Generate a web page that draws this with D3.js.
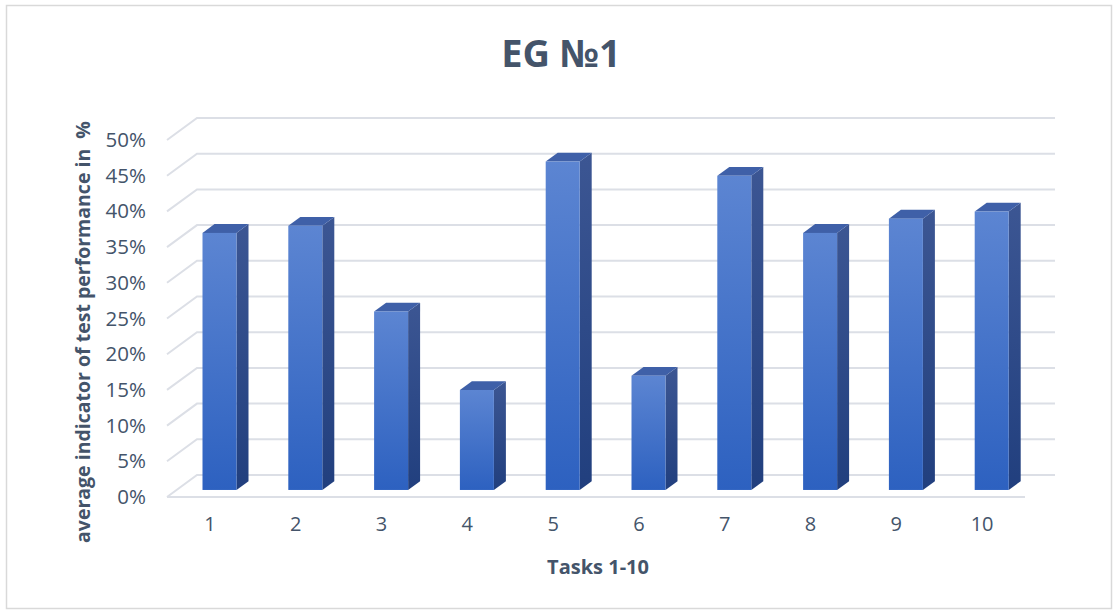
<!DOCTYPE html>
<html>
<head>
<meta charset="utf-8">
<script src="https://cdn.jsdelivr.net/npm/d3@7"></script>
<style>
  html, body { margin: 0; padding: 0; background: #fff; }
  svg { display: block; font-family: "Open Sans", sans-serif; }
</style>
</head>
<body>
<svg id="chart" width="1118" height="614"></svg>
<script>
// Tasks and their average test performance
const tasks = ["1", "2", "3", "4", "5", "6", "7", "8", "9", "10"];
const performance = [0.36, 0.37, 0.25, 0.14, 0.46, 0.16, 0.44, 0.36, 0.38, 0.39];
const yTicks = [0, 0.05, 0.10, 0.15, 0.20, 0.25, 0.30, 0.35, 0.40, 0.45, 0.50];

const chartTitle = "EG №1";
const xTitle = "Tasks 1-10";
const yTitle = "average indicator of test performance in  %";

const svg = d3.select("#chart");
const W = 1118, H = 614;

// oblique 3D projection: front plane plus a depth vector
const frontLeft = 167, frontRight = 1025, floorY = 497;
const depthX = 30, depthY = -22;
const barD0 = 0.32, barD1 = 0.72;   // bar's front and back depth (fraction of floor depth)
const textColor = "#44546a";
const gridColor = "#dcdfe6";
const font = "'Open Sans', sans-serif";

const x = d3.scaleBand().domain(tasks).range([frontLeft, frontRight]);
const yFront = d3.scaleLinear().domain([0, 0.5]).range([floorY, floorY - 357]);
const h = v => floorY - yFront(v);

// outer frame
svg.append("rect")
  .attr("x", 6.5).attr("y", 5.5).attr("width", W - 13).attr("height", H - 11)
  .attr("fill", "#fff").attr("stroke", "#d9d9d9").attr("stroke-width", 1.5);

// gradients
const defs = svg.append("defs");
const gFront = defs.append("linearGradient").attr("id", "gFront")
  .attr("x1", 0).attr("y1", 0).attr("x2", 0).attr("y2", 1);
gFront.append("stop").attr("offset", "0%").attr("stop-color", "#5c85d2");
gFront.append("stop").attr("offset", "100%").attr("stop-color", "#2d61c0");
const gSide = defs.append("linearGradient").attr("id", "gSide")
  .attr("x1", 0).attr("y1", 0).attr("x2", 0).attr("y2", 1);
gSide.append("stop").attr("offset", "0%").attr("stop-color", "#3c5693");
gSide.append("stop").attr("offset", "100%").attr("stop-color", "#213f7e");

// gridlines: side wall diagonal + back wall
const grid = svg.append("g").attr("fill", "none").attr("stroke", gridColor).attr("stroke-width", 2);
yTicks.forEach(t => {
  const yf = yFront(t);
  grid.append("path")
    .attr("d", `M${frontLeft},${yf}L${frontLeft + depthX},${yf + depthY}L${frontRight + depthX},${yf + depthY}`);
});
// front edge of the floor
grid.append("line")
  .attr("x1", frontLeft).attr("x2", frontRight)
  .attr("y1", floorY).attr("y2", floorY);

// bars
const bw = 34;
const bars = svg.append("g");
tasks.forEach((t, i) => {
  const v = performance[i];
  const cx = x(t) + x.bandwidth() / 2;
  const fx0 = cx + barD0 * depthX - bw / 2;
  const fx1 = fx0 + bw;
  const fyB = floorY + barD0 * depthY;
  const fyT = fyB - h(v);
  const ddx = (barD1 - barD0) * depthX;
  const ddy = (barD1 - barD0) * depthY;
  // side face
  bars.append("path")
    .attr("d", `M${fx1},${fyT}L${fx1 + ddx},${fyT + ddy}L${fx1 + ddx},${fyB + ddy}L${fx1},${fyB}Z`)
    .attr("fill", "url(#gSide)");
  // top face
  bars.append("path")
    .attr("d", `M${fx0},${fyT}L${fx0 + ddx},${fyT + ddy}L${fx1 + ddx},${fyT + ddy}L${fx1},${fyT}Z`)
    .attr("fill", "#3f60a8");
  // front face
  bars.append("rect")
    .attr("x", fx0).attr("y", fyT).attr("width", bw).attr("height", h(v))
    .attr("fill", "url(#gFront)");
});

// y axis labels
const yAxis = svg.append("g")
  .attr("transform", `translate(${frontLeft - 14},0)`)
  .call(d3.axisLeft(yFront).tickValues(yTicks).tickFormat(d3.format(".0%")).tickSize(0).tickPadding(7));
yAxis.select(".domain").remove();
yAxis.selectAll("text").attr("fill", textColor).style("font-size", "20.5px")
  .style("font-family", font);

// x axis labels
const xAxis = svg.append("g")
  .attr("transform", `translate(0,${floorY + 19})`)
  .call(d3.axisBottom(x).tickSize(0).tickPadding(1));
xAxis.select(".domain").remove();
xAxis.selectAll("text").attr("fill", textColor).style("font-size", "20px")
  .style("font-family", font);

// titles
svg.append("text")
  .attr("x", 561).attr("y", 67).attr("text-anchor", "middle")
  .attr("fill", textColor).style("font-size", "38px").style("font-weight", "bold")
  .text(chartTitle);

svg.append("text")
  .attr("x", 598).attr("y", 574).attr("text-anchor", "middle")
  .attr("fill", textColor).style("font-size", "20px").style("font-weight", "bold")
  .text(xTitle);

svg.append("text")
  .attr("transform", "translate(90,332) rotate(-90)")
  .attr("text-anchor", "middle")
  .style("white-space", "pre")
  .attr("fill", textColor).style("font-size", "19.5px").style("font-weight", "bold")
  .text(yTitle);
</script>
</body>
</html>
